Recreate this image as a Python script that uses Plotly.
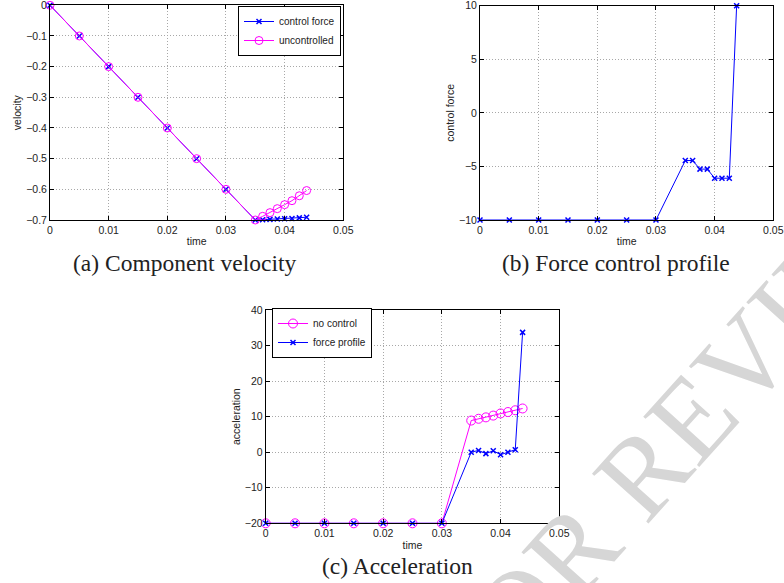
import plotly.graph_objects as go

# ---------------- data ----------------
t = [0, 0.005, 0.01, 0.015, 0.02, 0.025, 0.03, 0.035,
     0.03625, 0.0375, 0.03875, 0.04, 0.04125, 0.0425, 0.04375]

vel_control = [0, -0.1, -0.2, -0.3, -0.4, -0.5, -0.6, -0.7,
               -0.699, -0.698, -0.697, -0.696, -0.695, -0.693, -0.691]
vel_uncontrolled = [0, -0.1, -0.2, -0.3, -0.4, -0.5, -0.6, -0.7,
                    -0.688, -0.676, -0.663, -0.650, -0.637, -0.621, -0.604]

force = [-10, -10, -10, -10, -10, -10, -10, -4.45,
         -4.45, -5.25, -5.25, -6.1, -6.1, -6.1, 10]

acc_nocontrol = [-20, -20, -20, -20, -20, -20, -20, 8.9,
                 9.4, 9.8, 10.3, 10.9, 11.3, 11.8, 12.3]
acc_force = [-20, -20, -20, -20, -20, -20, -20, 0.0,
             0.5, -0.4, 0.4, -0.7, 0.0, 0.7, 33.7]

x_ticks = [0, 0.01, 0.02, 0.03, 0.04, 0.05]
x_ticktext = ["0", "0.01", "0.02", "0.03", "0.04", "0.05"]
vel_ticks = [0, -0.1, -0.2, -0.3, -0.4, -0.5, -0.6, -0.7]
vel_ticktext = ["0", "\u22120.1", "\u22120.2", "\u22120.3", "\u22120.4", "\u22120.5", "\u22120.6", "\u22120.7"]
force_ticks = [-10, -5, 0, 5, 10]
force_ticktext = ["\u221210", "\u22125", "0", "5", "10"]
acc_ticks = [-20, -10, 0, 10, 20, 30, 40]
acc_ticktext = ["\u221220", "\u221210", "0", "10", "20", "30", "40"]

captions = ["(a) Component velocity", "(b) Force control profile", "(c) Acceleration"]
watermark = "FOR REVIEW"

# ---------------- styling ----------------
W, H = 784, 583
BLUE = "#0000ff"
MAG = "#ff00ff"
SANS = "Liberation Sans, Arial, sans-serif"
SERIF = "Liberation Serif, Times New Roman, serif"


def px_x(a, b):
    return [a / W, b / W]


def px_y(top, bottom):
    return [1 - bottom / H, 1 - top / H]


def axis_style(**kw):
    d = dict(
        automargin=False, ticklabeloverflow="allow",
        showline=True, linecolor="black", linewidth=1, mirror="allticks",
        ticks="inside", ticklen=4, tickcolor="black", tickwidth=1,
        showgrid=True, gridcolor="#a8a8a8", griddash="1px,2px", gridwidth=1,
        zeroline=False, tickfont=dict(family=SANS, size=10.5, color="#222"),
        title_font=dict(family=SANS, size=10.5, color="#222"),
    )
    d.update(kw)
    return d


x_marker = dict(symbol="x-thin", size=5, line=dict(width=1.5, color=BLUE), color=BLUE)
o_marker = dict(symbol="circle-open", size=8, line=dict(width=1, color=MAG), color=MAG)

fig = go.Figure()

# (a) velocity
fig.add_trace(go.Scatter(x=t, y=vel_control, mode="lines+markers", name="control force",
                         line=dict(color=BLUE, width=1), marker=x_marker,
                         xaxis="x", yaxis="y", legend="legend", cliponaxis=False))
fig.add_trace(go.Scatter(x=t, y=vel_uncontrolled, mode="lines+markers", name="uncontrolled",
                         line=dict(color=MAG, width=1), marker=o_marker,
                         xaxis="x", yaxis="y", legend="legend", cliponaxis=False))
# (b) force
fig.add_trace(go.Scatter(x=t, y=force, mode="lines+markers", name="control force",
                         line=dict(color=BLUE, width=1), marker=x_marker,
                         xaxis="x2", yaxis="y2", showlegend=False, cliponaxis=False))
# (c) acceleration
fig.add_trace(go.Scatter(x=t, y=acc_nocontrol, mode="lines+markers", name="no control",
                         line=dict(color=MAG, width=1), marker=dict(o_marker, size=9),
                         xaxis="x3", yaxis="y3", legend="legend2", cliponaxis=False))
fig.add_trace(go.Scatter(x=t, y=acc_force, mode="lines+markers", name="force profile",
                         line=dict(color=BLUE, width=1), marker=x_marker,
                         xaxis="x3", yaxis="y3", legend="legend2", cliponaxis=False))

legend_common = dict(bgcolor="white", bordercolor="black", borderwidth=1,
                     font=dict(family=SANS, size=10, color="#222"),
                     tracegroupgap=0, itemwidth=30, xanchor="right", yanchor="top")

fig.update_layout(
    width=W, height=H, margin=dict(l=0, r=0, t=0, b=0, autoexpand=False),
    paper_bgcolor="white", plot_bgcolor="white",
    xaxis=axis_style(domain=px_x(50, 343.3), range=[0, 0.05], tickvals=x_ticks,
                     ticktext=x_ticktext, title=dict(text="time", standoff=3), anchor="y"),
    yaxis=axis_style(domain=px_y(5.3, 220), range=[-0.7, 0], tickvals=vel_ticks,
                     ticktext=vel_ticktext, title=dict(text="velocity", standoff=2), anchor="x"),
    xaxis2=axis_style(domain=px_x(480, 773.3), range=[0, 0.05], tickvals=x_ticks,
                      ticktext=x_ticktext, title=dict(text="time", standoff=3), anchor="y2"),
    yaxis2=axis_style(domain=px_y(5.7, 220), range=[-10, 10], tickvals=force_ticks,
                      ticktext=force_ticktext, title=dict(text="control force", standoff=2), anchor="x2"),
    xaxis3=axis_style(domain=px_x(265.7, 559.3), range=[0, 0.05], tickvals=x_ticks,
                      ticktext=x_ticktext, title=dict(text="time", standoff=3), anchor="y3"),
    yaxis3=axis_style(domain=px_y(310, 523.3), range=[-20, 40], tickvals=acc_ticks,
                      ticktext=acc_ticktext, title=dict(text="acceleration", standoff=2), anchor="x3"),
    legend=dict(legend_common, x=341 / W, y=1 - 6 / H),
    legend2=dict(legend_common, xanchor="left", x=272 / W, y=1 - 308 / H),
    showlegend=True,
)

cap_font = dict(family=SERIF, size=23.5, color="#222")
for text, cx, cy in [(captions[0], 184, 263), (captions[1], 616, 263), (captions[2], 397, 566)]:
    fig.add_annotation(text=text, x=cx / W, y=1 - cy / H, xref="paper", yref="paper",
                       showarrow=False, font=cap_font, xanchor="center", yanchor="middle")

fig.add_annotation(text=watermark, x=682 / W, y=1 - 428 / H, xref="paper", yref="paper",
                   showarrow=False, textangle=-48,
                   font=dict(family=SERIF, size=115, color="#d6d6d6"),
                   xanchor="center", yanchor="middle")

fig.write_html("out.html", config={"displayModeBar": False},
               post_script="document.body.style.margin='0';document.body.style.overflow='hidden';")
